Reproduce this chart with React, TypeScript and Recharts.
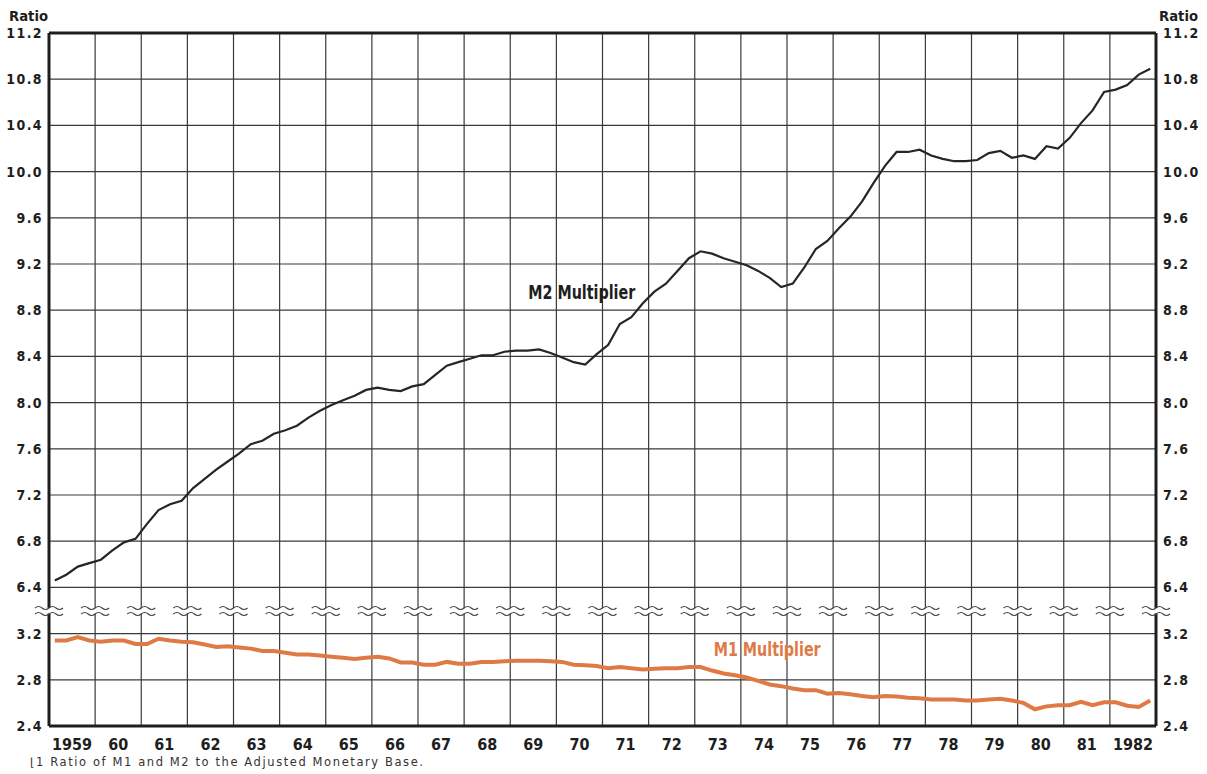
import React from "react";
import { LineChart, Line, XAxis, YAxis, ReferenceLine, ReferenceDot } from "recharts";

// ---- data ----
const years = [1959, 1960, 1961, 1962, 1963, 1964, 1965, 1966, 1967, 1968, 1969, 1970, 1971, 1972, 1973, 1974, 1975, 1976, 1977, 1978, 1979, 1980, 1981, 1982];
const yearLabels = ["1959", "60", "61", "62", "63", "64", "65", "66", "67", "68", "69", "70", "71", "72", "73", "74", "75", "76", "77", "78", "79", "80", "81", "1982"];
const quarterOffsets = [0.125, 0.375, 0.625, 0.875];

const m2Values = [
  6.46, 6.51, 6.58, 6.61,
  6.64, 6.72, 6.79, 6.82,
  6.95, 7.07, 7.12, 7.15,
  7.26, 7.34, 7.42, 7.49,
  7.56, 7.64, 7.67, 7.73,
  7.76, 7.80, 7.87, 7.93,
  7.98, 8.02, 8.06, 8.11,
  8.13, 8.11, 8.10, 8.14,
  8.16, 8.24, 8.32, 8.35,
  8.38, 8.41, 8.41, 8.44,
  8.45, 8.45, 8.46, 8.43,
  8.39, 8.35, 8.33, 8.42,
  8.50, 8.68, 8.74, 8.86,
  8.96, 9.03, 9.14, 9.25,
  9.31, 9.29, 9.25, 9.22,
  9.19, 9.14, 9.08, 9.00,
  9.03, 9.17, 9.33, 9.40,
  9.51, 9.61, 9.74, 9.90,
  10.05, 10.17, 10.17, 10.19,
  10.14, 10.11, 10.09, 10.09,
  10.10, 10.16, 10.18, 10.12,
  10.14, 10.11, 10.22, 10.20,
  10.29, 10.42, 10.53, 10.69,
  10.71, 10.75, 10.84, 10.89,
];

const m1Values = [
  3.14, 3.14, 3.17, 3.14,
  3.13, 3.14, 3.14, 3.11,
  3.11, 3.155, 3.14, 3.13,
  3.125, 3.105, 3.085, 3.09,
  3.08, 3.07, 3.05, 3.05,
  3.035, 3.02, 3.02, 3.01,
  3.00, 2.99, 2.98, 2.99,
  3.00, 2.985, 2.95, 2.95,
  2.93, 2.93, 2.955, 2.94,
  2.94, 2.955, 2.955, 2.96,
  2.965, 2.965, 2.965, 2.96,
  2.955, 2.93, 2.925, 2.92,
  2.90, 2.91, 2.90, 2.89,
  2.895, 2.90, 2.90, 2.91,
  2.91, 2.88, 2.855, 2.84,
  2.82, 2.79, 2.76, 2.745,
  2.725, 2.71, 2.71, 2.68,
  2.686, 2.675, 2.66, 2.65,
  2.66, 2.655, 2.645, 2.64,
  2.63, 2.63, 2.63, 2.62,
  2.62, 2.63, 2.635, 2.62,
  2.60, 2.545, 2.57, 2.58,
  2.58, 2.61, 2.58, 2.605,
  2.605, 2.575, 2.565, 2.62,
];

const m2Ticks = [6.4, 6.8, 7.2, 7.6, 8.0, 8.4, 8.8, 9.2, 9.6, 10.0, 10.4, 10.8, 11.2];
const m1Ticks = [2.4, 2.8, 3.2];
const m2Domain = [5.2, 11.2];
const m1Domain = [2.4, 8.4];
const xDomain = [1959, 1983];
const yearBoundaries = years.slice(1);
const allBoundaries = [...years, 1983];
const yearLabelPositions = years.map((y) => y + 0.5);

const data = years.flatMap((yr, yi) =>
  quarterOffsets.map((q, qi) => ({
    t: yr + q,
    m2: m2Values[yi * 4 + qi],
    m1: m1Values[yi * 4 + qi],
  }))
);

// ---- styles ----
const COND = "'DejaVu Sans Condensed', 'DejaVu Sans', sans-serif";
const INK = "#1e1e1e";
const GRID = "#3a3a3a";
const ORANGE = "#e07a45";

const YTick = (props: any) => {
  const { x, y, payload, textAnchor } = props;
  return (
    <text x={x} y={y} dy="0.36em" textAnchor={textAnchor} fontFamily={COND} fontWeight="bold" fontSize={14} letterSpacing={1.4} fill={INK} style={{ fontStretch: "condensed" }}>
      {Number(payload.value).toFixed(1)}
    </text>
  );
};

const XTick = (props: any) => {
  const { x, y, payload } = props;
  const idx = yearLabelPositions.indexOf(payload.value);
  return (
    <text x={x} y={y} dy="0.71em" textAnchor="middle" fontFamily={COND} fontWeight="bold" fontSize={16} fill={INK} style={{ fontStretch: "condensed" }}>
      {yearLabels[idx]}
    </text>
  );
};

const BreakMark = (props: any) => {
  const { cx, cy } = props;
  const wave = (yy: number) => `M${cx - 14},${yy} q3.5,-3 7,0 t7,0 t7,0 t7,0`;
  return (
    <g>
      <rect x={cx - 4} y={cy - 2.5} width={8} height={5.5} fill="#fff" />
      <path d={wave(cy - 2.5)} fill="none" stroke="#444" strokeWidth={1.2} />
      <path d={wave(cy + 3.5)} fill="none" stroke="#444" strokeWidth={1.2} />
    </g>
  );
};

const SeriesLabel = (text: string, color: string) => (props: any) => {
  const { cx, cy } = props;
  return (
    <text x={cx} y={cy} textAnchor="middle" fontFamily={COND} fontWeight="bold" fontSize={20} fill={color} textLength={107} lengthAdjust="spacingAndGlyphs" style={{ fontStretch: "condensed" }}>
      {text}
    </text>
  );
};

export default function App() {
  return (
    <div style={{ position: "absolute", left: 0, top: 0, width: 1207, height: 774, background: "#fff" }}>
      <LineChart width={1207} height={774} data={data} margin={{ top: 33, right: 6, bottom: 18, left: 4 }}>
        <XAxis dataKey="t" type="number" domain={xDomain} ticks={yearLabelPositions} interval={0} axisLine={false} tickLine={false} tickSize={0} tickMargin={13} height={30} tick={<XTick />} allowDataOverflow />
        <YAxis yAxisId="m1" orientation="left" type="number" domain={m1Domain} ticks={m1Ticks} interval={0} width={45} axisLine={false} tickLine={false} tickSize={0} tickMargin={6} tick={<YTick />} allowDataOverflow />
        <YAxis yAxisId="m1r" orientation="right" type="number" domain={m1Domain} ticks={m1Ticks} interval={0} width={45} axisLine={false} tickLine={false} tickSize={0} tickMargin={7} tick={<YTick />} allowDataOverflow />
        <YAxis yAxisId="a2" orientation="left" type="number" domain={m2Domain} ticks={m2Ticks} interval={0} width={0.001} axisLine={false} tickLine={false} tickSize={0} tickMargin={6} tick={<YTick />} allowDataOverflow />
        <YAxis yAxisId="a2r" orientation="right" type="number" domain={m2Domain} ticks={m2Ticks} interval={0} width={0.001} axisLine={false} tickLine={false} tickSize={0} tickMargin={7} tick={<YTick />} allowDataOverflow />

        {m2Ticks.slice(0, -1).map((v) => (
          <ReferenceLine key={"h2" + v} yAxisId="a2" y={v} stroke={GRID} strokeWidth={1.2} />
        ))}
        {m1Ticks.slice(1).map((v) => (
          <ReferenceLine key={"h1" + v} yAxisId="m1" y={v} stroke={GRID} strokeWidth={1.2} />
        ))}
        {yearBoundaries.map((v) => (
          <ReferenceLine key={"v" + v} yAxisId="a2" x={v} stroke={GRID} strokeWidth={1.2} />
        ))}

        <ReferenceLine yAxisId="a2" y={m2Domain[1]} stroke={INK} strokeWidth={3} />
        <ReferenceLine yAxisId="m1" y={m1Domain[0]} stroke={INK} strokeWidth={3} />
        <ReferenceLine yAxisId="a2" x={xDomain[0]} stroke={INK} strokeWidth={3} />
        <ReferenceLine yAxisId="a2" x={xDomain[1]} stroke={INK} strokeWidth={3} />

        {allBoundaries.map((v) => (
          <ReferenceDot key={"b" + v} yAxisId="a2" x={v} y={6.2} r={1} shape={<BreakMark />} />
        ))}

        <Line yAxisId="a2" dataKey="m2" type="linear" stroke="#262626" strokeWidth={2.2} dot={false} isAnimationActive={false} />
        <Line yAxisId="m1" dataKey="m1" type="linear" stroke={ORANGE} strokeWidth={4} dot={false} isAnimationActive={false} />

        <ReferenceDot yAxisId="a2" x={1970.55} y={8.895} r={1} shape={SeriesLabel("M2 Multiplier", INK)} />
        <ReferenceDot yAxisId="m1" x={1974.57} y={3.004} r={1} shape={SeriesLabel("M1 Multiplier", ORANGE)} />
      </LineChart>
      <svg width={1207} height={774} style={{ position: "absolute", left: 0, top: 0, pointerEvents: "none" }}>
        <text x={9} y={21} fontFamily={COND} fontWeight="bold" fontSize={14} fill={INK} textLength={39} lengthAdjust="spacingAndGlyphs">Ratio</text>
        <text x={1159} y={21} fontFamily={COND} fontWeight="bold" fontSize={14} fill={INK} textLength={39} lengthAdjust="spacingAndGlyphs">Ratio</text>
        <text x={30} y={766} fontFamily="'DejaVu Sans', sans-serif" fontSize={11.5} fill="#333" textLength={393} lengthAdjust="spacing">⌊1 Ratio of M1 and M2 to the Adjusted Monetary Base.</text>
      </svg>
    </div>
  );
}
